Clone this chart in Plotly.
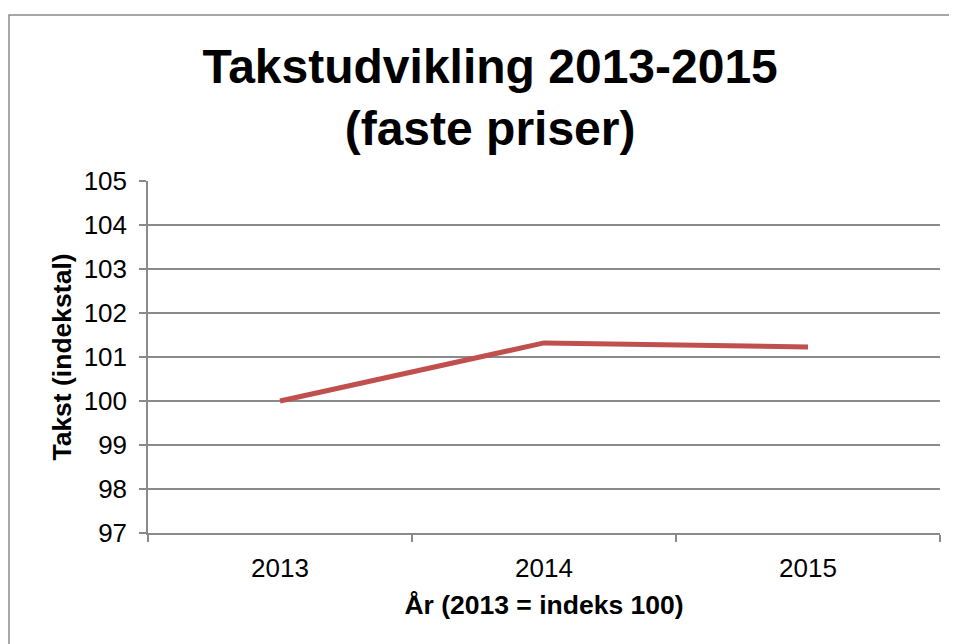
import plotly.graph_objects as go

years = ["2013", "2014", "2015"]
takst = [100.0, 101.32, 101.23]
y_ticks = [97, 98, 99, 100, 101, 102, 103, 104, 105]

FONT = "Liberation Sans, Arial, sans-serif"
GRID = "#8a8a8a"

fig = go.Figure()
fig.add_trace(go.Scatter(
    x=years, y=takst, mode="lines",
    line=dict(color="#C0504D", width=5),
    hoverinfo="skip",
))

fig.update_layout(
    width=949, height=636,
    margin=dict(l=140, r=17, t=173, b=111),
    paper_bgcolor="white", plot_bgcolor="white",
    showlegend=False,
    font=dict(family=FONT, color="black", size=26),
    title=dict(
        text="<b>Takstudvikling 2013-2015<br>(faste priser)</b>",
        font=dict(family=FONT, size=48, color="black"),
        x=0.508, xref="container", xanchor="center",
        y=0.882, yref="container", yanchor="top",
    ),
    xaxis=dict(
        type="category", range=[-0.5, 2.5],
        tickson="boundaries", ticks="outside", ticklen=7, tickcolor=GRID,
        tickwidth=1.5,
        showline=True, linecolor=GRID, linewidth=1.5,
        showgrid=False,
        tickfont=dict(family=FONT, size=26, color="black"),
        ticklabelstandoff=11,
        title=dict(text="<b>År (2013 = indeks 100)</b>",
                   font=dict(family=FONT, size=26.5, color="black"), standoff=13),
    ),
    yaxis=dict(
        range=[97, 105], tickvals=y_ticks,
        ticks="outside", ticklen=7, tickcolor=GRID, tickwidth=1.5,
        showline=True, linecolor=GRID, linewidth=1.5,
        showgrid=True, gridcolor=GRID, gridwidth=1.5,
        zeroline=False,
        tickfont=dict(family=FONT, size=26, color="black"),
        ticklabelstandoff=7,
        title=dict(text="<b>Takst (indekstal)</b>",
                   font=dict(family=FONT, size=26.5, color="black"), standoff=4),
    ),
    shapes=[dict(
        type="path", xref="paper", yref="paper",
        path="M -0.1755,-0.5 L -0.1755,1.4716 L 1.3,1.4716",
        line=dict(color=GRID, width=1.5),
        layer="below",
    )],
)

fig.write_html("out.html")
